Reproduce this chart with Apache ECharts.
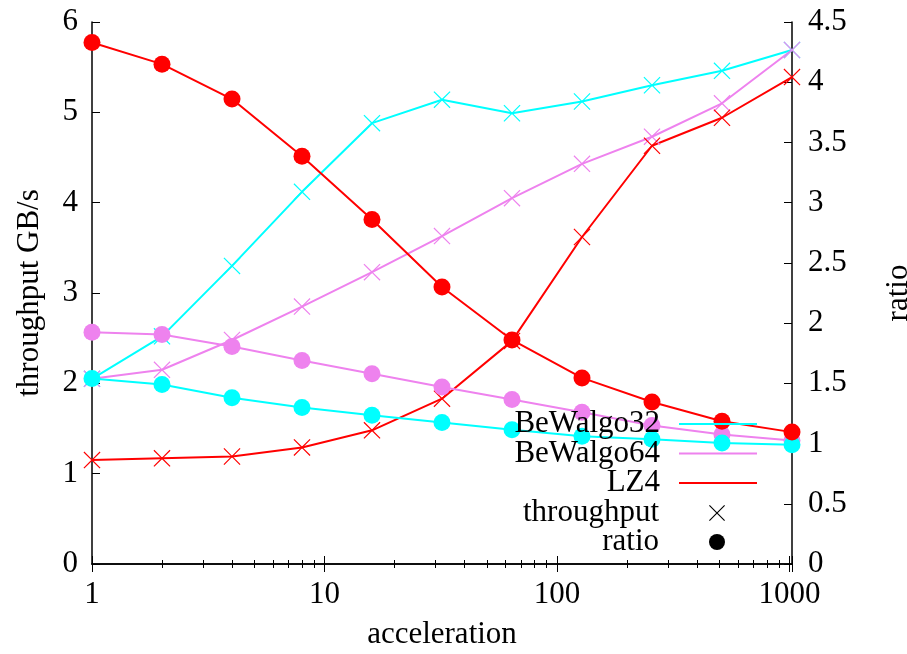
<!DOCTYPE html>
<html lang="en">
<head>
  <meta charset="UTF-8">
  <title>throughput and ratio</title>
  <script src="https://cdn.jsdelivr.net/npm/echarts@6/dist/echarts.min.js"></script>
  <style>
    html, body { margin: 0; padding: 0; background: #fff; }
    #main { width: 907px; height: 654px; }
  </style>
</head>
<body>
<div id="main"></div>
<script>
  // acceleration levels (x, log scale)
  const accel = [1, 2, 4, 8, 16, 32, 64, 128, 256, 512, 1024];

  // throughput in GB/s (left axis)
  const bw32Throughput = [2.05, 2.52, 3.30, 4.12, 4.88, 5.14, 4.99, 5.12, 5.30, 5.46, 5.69];
  const bw64Throughput = [2.05, 2.15, 2.48, 2.85, 3.23, 3.63, 4.05, 4.43, 4.73, 5.10, 5.69];
  const lz4Throughput  = [1.15, 1.17, 1.19, 1.29, 1.48, 1.83, 2.47, 3.62, 4.63, 4.94, 5.39];

  // compression ratio (right axis)
  const bw32Ratio = [1.54, 1.49, 1.38, 1.30, 1.235, 1.175, 1.115, 1.06, 1.035, 1.005, 0.99];
  const bw64Ratio = [1.925, 1.905, 1.805, 1.69, 1.58, 1.47, 1.365, 1.26, 1.15, 1.075, 1.025];
  const lz4Ratio  = [4.33, 4.15, 3.86, 3.385, 2.86, 2.30, 1.86, 1.545, 1.345, 1.185, 1.095];

  const xTickLabels = [1, 10, 100, 1000];

  const FONT = 'Liberation Serif';
  const FS = 31;
  const CYAN = '#00ffff', VIOLET = '#ee82ee', RED = '#ff0000';
  // gnuplot style cross, drawn as a filled outline
  const CROSS = 'path://M0,1L1,0L10,9L19,0L20,1L11,10L20,19L19,20L10,11L1,20L0,19L9,10Z';

  const chart = echarts.init(document.getElementById('main'));

  const pair = (ys) => accel.map((x, i) => [x, ys[i]]);

  function thrSeries(name, color, ys) {
    return {
      name, type: 'line', yAxisIndex: 0, data: pair(ys),
      color, symbol: CROSS, symbolSize: 17, showSymbol: true,
      lineStyle: { width: 2, color }, itemStyle: { color },
      animation: false
    };
  }
  function ratioSeries(name, color, ys) {
    return {
      name, type: 'line', yAxisIndex: 1, data: pair(ys),
      color, symbol: 'circle', symbolSize: 17, showSymbol: true,
      lineStyle: { width: 2, color }, itemStyle: { color },
      animation: false
    };
  }

  const legendRows = [
    { name: 'BeWalgo32', top: 408 },
    { name: 'BeWalgo64', top: 437.5 },
    { name: 'LZ4', top: 467 },
    { name: 'throughput', top: 497 },
    { name: 'ratio', top: 526 }
  ];

  const legends = legendRows.map((r, i) => {
    const isLine = i < 3;
    return {
      data: [isLine ? { name: r.name, icon: 'rect' } : { name: r.name }],
      right: 150, top: r.top, padding: 0,
      orient: 'vertical', align: 'right',
      itemWidth: 78, itemHeight: isLine ? 2 : 20,
      selectedMode: false,
      lineStyle: isLine ? undefined : { opacity: 0 },
      textStyle: {
        fontFamily: FONT, fontSize: FS, color: '#000', lineHeight: 32,
        padding: [0, 14, 0, 0]
      }
    };
  });

  const xCommon = {
    type: 'log', logBase: 10, min: 1, max: 1024,
    axisLine: { show: true, lineStyle: { color: '#000', width: 1.5 } },
    axisTick: { show: true, inside: true, length: 8, lineStyle: { color: '#000' } },
    minorTick: { show: true, splitNumber: 9, length: 4, lineStyle: { color: '#000' } },
    splitLine: { show: false },
    minorSplitLine: { show: false }
  };

  chart.setOption({
    animation: false,
    grid: { left: 92, right: 115, top: 22, bottom: 90, show: false, containLabel: false, outerBoundsMode: 'none' },
    legend: legends,
    xAxis: [
      Object.assign({}, xCommon, {
        position: 'bottom',
        name: 'acceleration', nameLocation: 'middle', nameGap: 55,
        nameTextStyle: { fontFamily: FONT, fontSize: FS, color: '#000' },
        axisLabel: {
          fontFamily: FONT, fontSize: FS, color: '#000', margin: 15,
          formatter: (v) => xTickLabels.includes(Math.round(v)) && Math.abs(v - Math.round(v)) < 1e-6 ? String(Math.round(v)) : ''
        }
      }),
      Object.assign({}, xCommon, {
        position: 'top',
        axisLabel: { show: false }
      })
    ],
    yAxis: [
      {
        type: 'value', min: 0, max: 6, interval: 1, position: 'left',
        name: 'throughput GB/s', nameLocation: 'middle', nameGap: 47, nameRotate: 90,
        nameTextStyle: { fontFamily: FONT, fontSize: FS, color: '#000' },
        axisLine: { show: true, lineStyle: { color: '#000', width: 1.5 } },
        axisTick: { show: true, inside: true, length: 8, lineStyle: { color: '#000' } },
        axisLabel: { fontFamily: FONT, fontSize: FS, color: '#000', margin: 14 },
        splitLine: { show: false }
      },
      {
        type: 'value', min: 0, max: 4.5, interval: 0.5, position: 'right',
        name: 'ratio', nameLocation: 'middle', nameGap: 91, nameRotate: 90,
        nameTextStyle: { fontFamily: FONT, fontSize: FS, color: '#000' },
        axisLine: { show: true, lineStyle: { color: '#000', width: 1.5 } },
        axisTick: { show: true, inside: true, length: 8, lineStyle: { color: '#000' } },
        axisLabel: { fontFamily: FONT, fontSize: FS, color: '#000', margin: 16 },
        splitLine: { show: false }
      }
    ],
    series: [
      thrSeries('BeWalgo32', CYAN, bw32Throughput),
      thrSeries('BeWalgo64', VIOLET, bw64Throughput),
      thrSeries('LZ4', RED, lz4Throughput),
      ratioSeries('BeWalgo64', VIOLET, bw64Ratio),
      ratioSeries('BeWalgo32', CYAN, bw32Ratio),
      ratioSeries('LZ4', RED, lz4Ratio),
      // legend-only keys for the marker shapes
      { name: 'throughput', type: 'line', data: [], color: '#000', symbol: CROSS, symbolSize: 17,
        lineStyle: { opacity: 0 }, itemStyle: { color: '#000' } },
      { name: 'ratio', type: 'line', data: [], color: '#000', symbol: 'circle', symbolSize: 17,
        lineStyle: { opacity: 0 }, itemStyle: { color: '#000' } }
    ]
  });
</script>
</body>
</html>
